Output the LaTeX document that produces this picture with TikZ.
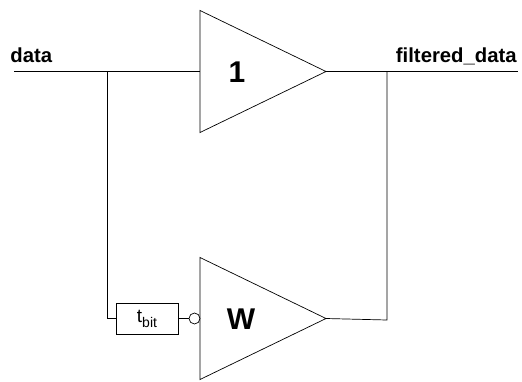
\documentclass[tikz,border=0pt]{standalone}
\usepackage{fontspec}
\setmainfont{Liberation Sans}
\usetikzlibrary{shapes.geometric,positioning}
\tikzstyle{amp} = [isosceles triangle, isosceles triangle stretches, minimum width=122bp, minimum height=126bp, inner sep=0pt, outer sep=0pt, draw=black, anchor=apex]
\tikzstyle{big} = [inner sep=0pt, font=\bfseries\fontsize{30bp}{30bp}\selectfont]
\tikzstyle{sig} = [inner sep=0pt, font=\bfseries\fontsize{20.3bp}{20.3bp}\selectfont]
\tikzstyle{delay} = [rectangle, minimum width=62bp, minimum height=31bp, inner sep=0pt, outer sep=0pt, draw=black, font=\fontsize{19bp}{19bp}\selectfont]
\tikzstyle{bubble} = [circle, minimum size=11bp, inner sep=0pt, outer sep=0pt, draw=black]
\begin{document}
\begin{tikzpicture}[x=1bp, y=1bp, line width=0.7bp, node distance=11bp]
		\useasboundingbox (0,0) rectangle (522,381);
		\node[amp](amp1) at (326,309.5){};
		\node[amp](amp2) at (326,62.5){};
		\node[big](one) at (237,309){1};
		\node[big](w) at (241,62){W};
		\node[bubble, left=0pt of amp2.west](inv){};
		\node[delay, left=of inv](tbit){t\raisebox{-5bp}{\fontsize{14bp}{14bp}\selectfont bit}};
		\node[sig, anchor=base west](data) at (10,319){data};
		\node[sig, anchor=base east](fdata) at (517,319){filtered\_data};

		\coordinate (din) at (14,309.5);
		\coordinate (split) at (107,309.5);
		\coordinate (dout) at (518,309.5);
		\coordinate (merge) at (387,309.5);
		\coordinate (fb) at (387,61);

		\draw (din)--(amp1.west);
		\draw (split)|-(tbit.west);
		\draw (tbit.east)--(inv.west);
		\draw (amp1.apex)--(dout);
		\draw (merge)--(fb)--(amp2.apex);
	\end{tikzpicture}
\end{document}
